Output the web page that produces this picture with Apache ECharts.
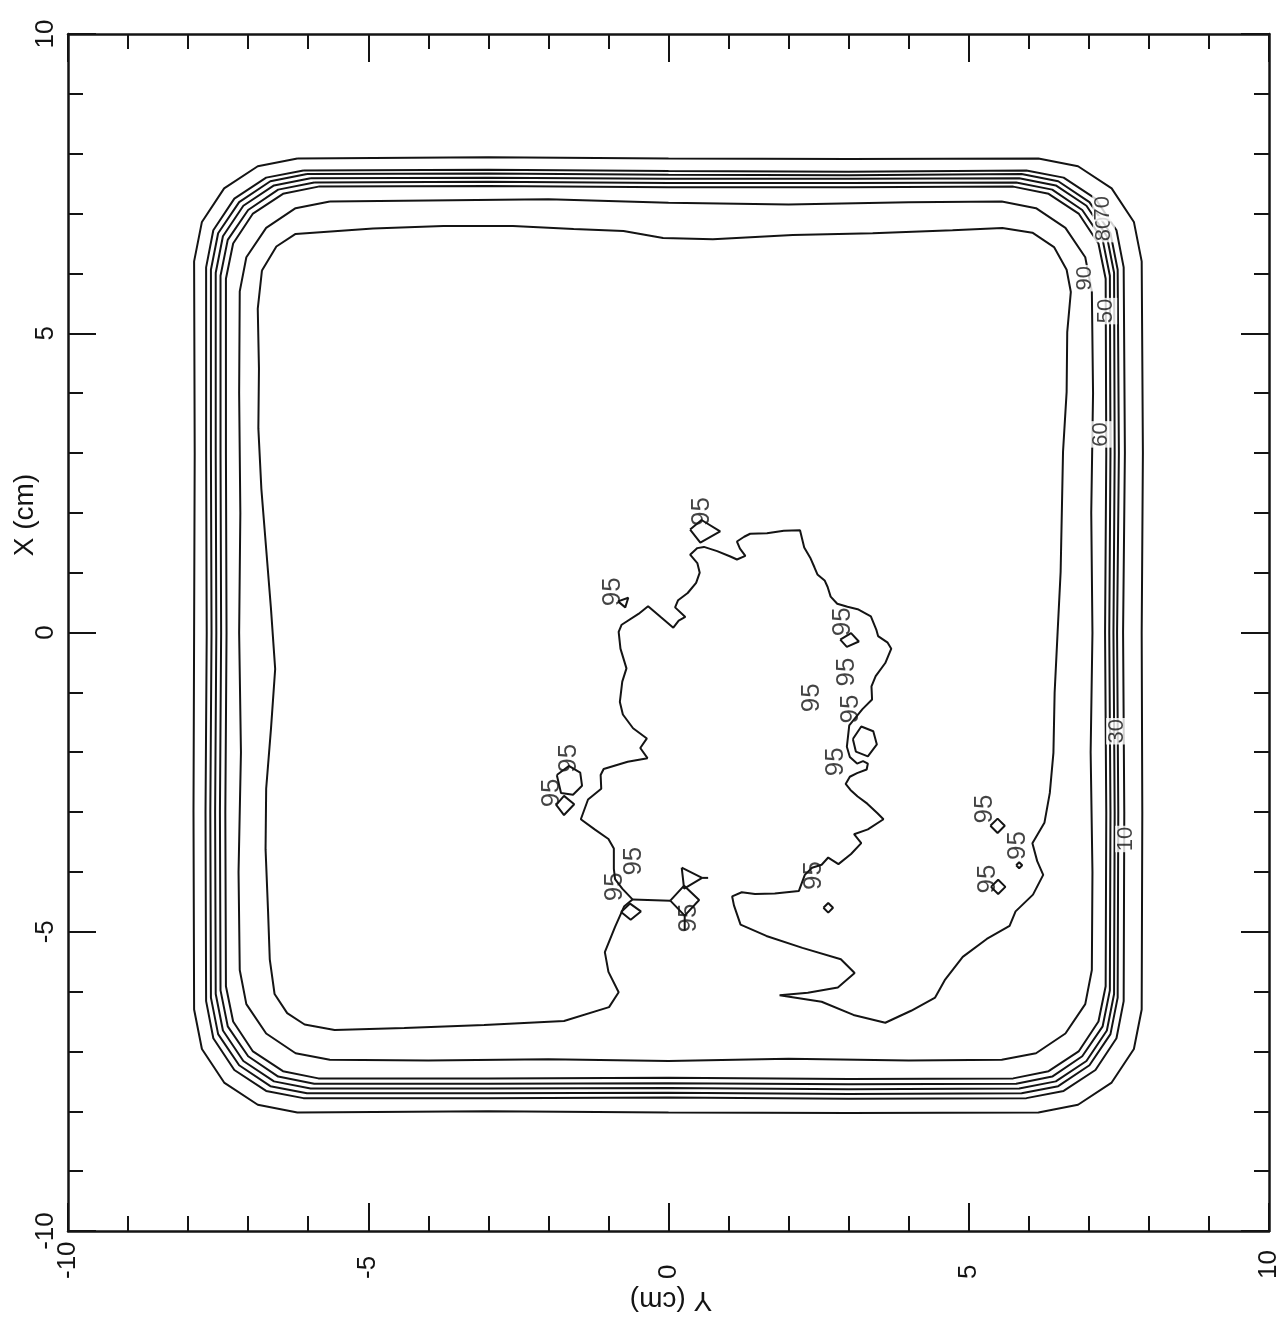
<!DOCTYPE html>
<html><head><meta charset="utf-8">
<script src="https://cdn.jsdelivr.net/npm/echarts@6/dist/echarts.min.js"></script>
<style>html,body{margin:0;padding:0;background:#fff}#c{width:1286px;height:1322px}</style>
</head><body><div id="c"></div>
<script>
// Contour lines (Y cm, X cm)
const contour10 = [[-6.18,7.92],[-3.0,7.94],[0,7.92],[3.0,7.91],[6.16,7.92],[6.82,7.79],[7.38,7.42],[7.75,6.86],[7.88,6.20],[7.90,3.0],[7.88,0],[7.89,-3.0],[7.88,-6.30],[7.75,-6.96],[7.38,-7.52],[6.82,-7.89],[6.16,-8.02],[3.0,-8.03],[0,-8.02],[-3.0,-8.00],[-6.18,-8.02],[-6.84,-7.89],[-7.40,-7.52],[-7.77,-6.96],[-7.90,-6.30],[-7.91,-3.0],[-7.90,0],[-7.89,3.0],[-7.90,6.20],[-7.77,6.86],[-7.40,7.42],[-6.84,7.79],[-6.18,7.92]];
const contour30 = [[-6.08,7.72],[-3,7.73],[0,7.71],[3,7.70],[5.96,7.72],[6.58,7.60],[7.11,7.25],[7.46,6.72],[7.58,6.10],[7.60,3],[7.57,0],[7.59,-3],[7.58,-6.16],[7.46,-6.78],[7.11,-7.31],[6.58,-7.66],[5.96,-7.78],[3,-7.79],[0,-7.77],[-3,-7.78],[-6.08,-7.78],[-6.70,-7.66],[-7.23,-7.31],[-7.58,-6.78],[-7.70,-6.16],[-7.71,-3],[-7.69,0],[-7.70,3],[-7.70,6.10],[-7.58,6.72],[-7.23,7.25],[-6.70,7.60],[-6.08,7.72]];
const contour50 = [[-6.02,7.66],[-3,7.67],[0,7.65],[3,7.64],[5.88,7.66],[6.49,7.54],[7.01,7.19],[7.36,6.67],[7.48,6.06],[7.50,3],[7.47,0],[7.49,-3],[7.48,-6.10],[7.36,-6.71],[7.01,-7.23],[6.49,-7.58],[5.88,-7.70],[3,-7.71],[0,-7.69],[-3,-7.70],[-6.02,-7.70],[-6.63,-7.58],[-7.15,-7.23],[-7.50,-6.71],[-7.62,-6.10],[-7.63,-3],[-7.61,0],[-7.62,3],[-7.62,6.06],[-7.50,6.67],[-7.15,7.19],[-6.63,7.54],[-6.02,7.66]];
const contour60 = [[-5.96,7.59],[-3,7.60],[0,7.58],[3,7.58],[5.84,7.59],[6.45,7.47],[6.96,7.13],[7.30,6.62],[7.42,6.01],[7.43,3],[7.41,0],[7.43,-3],[7.42,-6.04],[7.30,-6.65],[6.96,-7.16],[6.45,-7.50],[5.84,-7.62],[3,-7.63],[0,-7.61],[-3,-7.62],[-5.96,-7.62],[-6.57,-7.50],[-7.08,-7.16],[-7.42,-6.65],[-7.54,-6.04],[-7.55,-3],[-7.53,0],[-7.54,3],[-7.54,6.01],[-7.42,6.62],[-7.08,7.13],[-6.57,7.47],[-5.96,7.59]];
const contour70 = [[-5.90,7.52],[-3,7.53],[0,7.51],[3,7.51],[5.79,7.52],[6.39,7.40],[6.89,7.06],[7.23,6.56],[7.35,5.96],[7.36,3],[7.34,0],[7.36,-3],[7.35,-5.98],[7.23,-6.58],[6.89,-7.08],[6.39,-7.42],[5.79,-7.54],[3,-7.55],[0,-7.53],[-3,-7.54],[-5.90,-7.54],[-6.50,-7.42],[-7.00,-7.08],[-7.34,-6.58],[-7.46,-5.98],[-7.47,-3],[-7.45,0],[-7.46,3],[-7.46,5.96],[-7.34,6.56],[-7.00,7.06],[-6.50,7.40],[-5.90,7.52]];
const contour80 = [[-5.83,7.45],[-3,7.46],[0,7.44],[3,7.44],[5.74,7.45],[6.33,7.33],[6.83,7.00],[7.16,6.50],[7.28,5.91],[7.29,3],[7.27,0],[7.29,-3],[7.28,-5.91],[7.16,-6.50],[6.83,-7.00],[6.33,-7.33],[5.74,-7.45],[3,-7.46],[0,-7.44],[-3,-7.45],[-5.83,-7.45],[-6.42,-7.33],[-6.92,-7.00],[-7.25,-6.50],[-7.37,-5.91],[-7.38,-3],[-7.36,0],[-7.37,3],[-7.37,5.91],[-7.25,6.50],[-6.92,7.00],[-6.42,7.33],[-5.83,7.45]];
const contour90 = [[-5.64,7.20],[-4,7.22],[-2,7.24],[0,7.18],[2,7.15],[4,7.19],[5.55,7.20],[6.12,7.09],[6.61,6.76],[6.94,6.27],[7.05,5.70],[7.07,4],[7.04,2],[7.06,0],[7.03,-2],[7.06,-4],[7.05,-5.64],[6.94,-6.21],[6.61,-6.70],[6.12,-7.03],[5.55,-7.14],[4,-7.15],[2,-7.12],[0,-7.16],[-2,-7.13],[-4,-7.15],[-5.64,-7.14],[-6.21,-7.03],[-6.70,-6.70],[-7.03,-6.21],[-7.14,-5.64],[-7.16,-4],[-7.12,-2],[-7.15,0],[-7.13,2],[-7.15,4],[-7.14,5.70],[-7.03,6.27],[-6.70,6.76],[-6.21,7.09],[-5.64,7.20]];
const contour95 = [[-6.77,6.05],[-6.53,6.45],[-6.21,6.66],[-4.92,6.75],[-3.75,6.79],[-2.59,6.79],[-1.58,6.74],[-0.75,6.71],[-0.09,6.59],[0.74,6.57],[2.07,6.64],[3.40,6.67],[4.73,6.72],[5.56,6.76],[6.06,6.68],[6.42,6.44],[6.63,6.06],[6.70,5.69],[6.64,5.02],[6.63,4.02],[6.57,3.02],[6.55,2.01],[6.53,1.01],[6.48,0.01],[6.43,-1.01],[6.41,-2.01],[6.35,-2.68],[6.26,-3.18],[6.06,-3.52],[6.14,-3.82],[6.24,-4.05],[6.07,-4.38],[5.78,-4.66],[5.68,-4.90],[5.30,-5.12],[4.90,-5.42],[4.60,-5.81],[4.44,-6.10],[4.04,-6.32],[3.61,-6.52],[3.08,-6.39],[2.55,-6.17],[1.85,-6.06],[2.32,-6.02],[2.82,-5.93],[3.10,-5.69],[2.87,-5.46],[2.23,-5.27],[1.63,-5.07],[1.20,-4.88],[1.09,-4.56],
[1.06,-4.41],[1.22,-4.34],[1.44,-4.37],[1.77,-4.36],[2.17,-4.32],[2.27,-4.05],[2.39,-3.93],[2.55,-3.88],[2.66,-3.76],[2.83,-3.87],[3.04,-3.70],[3.21,-3.52],[3.09,-3.37],[3.32,-3.29],[3.58,-3.12],[3.48,-3.02],[3.31,-2.86],[3.15,-2.74],[3.03,-2.63],[2.95,-2.53],[3.02,-2.41],[3.14,-2.35],[3.30,-2.29],[3.32,-2.19],[3.24,-2.15],[3.14,-2.19],[3.02,-2.08],[2.97,-1.91],[3.01,-1.55],[3.23,-1.28],[3.39,-1.12],[3.38,-0.90],[3.45,-0.73],[3.61,-0.51],[3.71,-0.27],[3.65,-0.17],[3.49,-0.06],[3.46,0.05],[3.37,0.27],[3.15,0.39],[2.98,0.43],[2.81,0.48],[2.70,0.60],[2.65,0.76],[2.60,0.87],[2.48,0.97],[2.43,1.09],[2.36,1.25],[2.26,1.42],[2.19,1.71],[1.92,1.70],[1.64,1.66],[1.36,1.65],[1.26,1.60],[1.14,1.52],[1.19,1.40],[1.28,1.28],[1.14,1.22],[1.03,1.27],[0.81,1.36],[0.59,1.43],[0.48,1.41],[0.36,1.30],[0.48,1.16],[0.52,1.00],[0.46,0.83],[0.32,0.66],[0.16,0.54],[0.11,0.42],[0.28,0.26],[0.17,0.20],[0.08,0.08],[-0.12,0.25],[-0.34,0.44],[-0.50,0.31],[-0.78,0.13],[-0.83,0.01],[-0.80,-0.27],[-0.70,-0.60],[-0.77,-0.82],[-0.81,-1.16],[-0.76,-1.37],[-0.59,-1.60],[-0.36,-1.77],[-0.47,-1.93],[-0.35,-2.10],[-0.68,-2.16],[-1.08,-2.28],[-1.13,-2.38],[-1.12,-2.61],[-1.34,-2.79],[-1.46,-3.12],[-1.23,-3.29],[-1.00,-3.45],[-0.91,-3.61],[-0.91,-3.95],[-0.89,-4.12],[-0.77,-4.28],[-0.60,-4.46],
[-0.74,-4.58],[-0.89,-4.92],[-1.06,-5.34],[-1.00,-5.67],[-0.83,-6.01],[-0.99,-6.26],[-1.74,-6.49],[-3.07,-6.56],[-4.40,-6.61],[-5.56,-6.64],[-6.06,-6.55],[-6.35,-6.36],[-6.56,-6.04],[-6.64,-5.46],[-6.67,-4.62],[-6.71,-3.62],[-6.70,-2.61],[-6.62,-1.61],[-6.55,-0.61],[-6.62,0.40],[-6.70,1.40],[-6.78,2.40],[-6.83,3.41],[-6.82,4.41],[-6.84,5.41],[-6.77,6.05]];

// Small isolated 95 % pieces
const smallPieces = [
  [[0.36,1.72],[0.55,1.88],[0.86,1.69],[0.53,1.50],[0.36,1.72]],
  [[-0.84,0.52],[-0.67,0.58],[-0.72,0.42],[-0.84,0.52]],
  [[2.86,-0.12],[3.04,-0.01],[3.17,-0.15],[2.97,-0.24],[2.86,-0.12]],
  [[3.07,-1.78],[3.21,-1.57],[3.41,-1.65],[3.47,-1.87],[3.32,-2.07],[3.12,-1.99],[3.07,-1.78]],
  [[-1.87,-2.88],[-1.74,-2.73],[-1.57,-2.87],[-1.74,-3.05],[-1.87,-2.88]],
  [[-1.86,-2.38],[-1.66,-2.23],[-1.47,-2.34],[-1.44,-2.56],[-1.59,-2.71],[-1.79,-2.68],[-1.86,-2.38]],
  [[-0.79,-4.67],[-0.64,-4.53],[-0.46,-4.66],[-0.63,-4.80],[-0.79,-4.67]],
  [[0.03,-4.48],[0.26,-4.23],[0.51,-4.47],[0.27,-4.73],[0.03,-4.48]],
  [[0.22,-3.93],[0.26,-4.28],[0.56,-4.10],[0.22,-3.93]],
  [[0.56,-4.10],[0.66,-4.10]],
  [[-0.60,-4.46],[0.03,-4.48]],
  [[0.27,-4.73],[0.27,-4.98]],
  [[2.58,-4.60],[2.66,-4.52],[2.74,-4.60],[2.66,-4.68],[2.58,-4.60]],
  [[5.36,-3.23],[5.48,-3.11],[5.60,-3.23],[5.48,-3.35],[5.36,-3.23]],
  [[5.37,-4.25],[5.49,-4.13],[5.61,-4.25],[5.49,-4.37],[5.37,-4.25]],
  [[5.79,-3.89],[5.84,-3.84],[5.89,-3.89],[5.84,-3.94],[5.79,-3.89]]
];

// Contour value labels
const labels95 = [[0.55,2.02],[-0.92,0.68],[2.91,0.18],[2.97,-0.66],[2.38,-1.09],[3.04,-1.28],[2.79,-2.16],[-1.66,-2.10],[-1.95,-2.68],[-0.58,-3.82],[-0.90,-4.25],[0.34,-4.77],[2.42,-4.06],[5.27,-2.95],[5.81,-3.56],[5.31,-4.12]];
const levelLabelPos = [[6.93,5.92],[7.25,6.74],[7.24,7.09],[7.29,5.37],[7.20,3.31],[7.47,-1.65],[7.62,-3.45]];
const levelLabelText = ['90','80','70','50','60','30','10'];

const ink = '#141414';
const FONT = 'Liberation Sans';

const series = [];
[contour10, contour30, contour50, contour60, contour70, contour80, contour90, contour95].concat(smallPieces).forEach(function (d) {
  series.push({type:'line', data:d, symbol:'none', showSymbol:false, silent:true, animation:false,
    lineStyle:{color:ink, width:2}, z:2});
});
series.push({type:'scatter', symbol:'circle', symbolSize:1, itemStyle:{color:'rgba(0,0,0,0)'}, silent:true, z:5,
  data: labels95.map(function (p) { return {value:p, name:'95'}; }),
  label:{show:true, position:'inside', formatter:'{b}', rotate:90, fontSize:26, fontFamily:FONT, color:ink}});
series.push({type:'scatter', symbol:'circle', symbolSize:1, itemStyle:{color:'rgba(0,0,0,0)'}, silent:true, z:6,
  data: levelLabelPos.map(function (p, i) { return {value:p, name:levelLabelText[i]}; }),
  label:{show:true, position:'inside', formatter:'{b}', rotate:90, fontSize:22, fontFamily:FONT, color:ink,
    backgroundColor:'#fff', padding:[0,1]}});

function axisBase(pos, showLabel, labelOpt) {
  return {
    type:'value', min:-10, max:10, interval:5, position:pos,
    axisLine:{show:true, onZero:false, lineStyle:{color:ink, width:2.5}},
    axisTick:{show:true, inside:true, length:28, lineStyle:{color:ink, width:2}},
    minorTick:{show:true, splitNumber:5, length:15, lineStyle:{color:ink, width:2}},
    splitLine:{show:false}, minorSplitLine:{show:false},
    axisLabel: showLabel ? labelOpt : {show:false}
  };
}

const chart = echarts.init(document.getElementById('c'), null, {renderer:'canvas'});
chart.setOption({
  animation:false,
  backgroundColor:'#fff',
  grid:{left:68, right:17, top:34, bottom:91, containLabel:false},
  xAxis:[
    axisBase('bottom', true, {show:true, rotate:90, align:'left', verticalAlign:'middle', margin:48, fontSize:26, fontFamily:FONT, color:ink}),
    axisBase('top', false)
  ],
  yAxis:[
    axisBase('left', true, {show:true, rotate:90, margin:9, fontSize:26, fontFamily:FONT, color:ink}),
    axisBase('right', false)
  ],
  graphic:[
    {type:'text', x:25, y:515, rotation:Math.PI/2, silent:true,
      style:{text:'X (cm)', fontSize:28, fontFamily:FONT, fill:ink, align:'center', verticalAlign:'middle'}},
    {type:'text', x:671, y:1300, rotation:Math.PI, silent:true,
      style:{text:'Y (cm)', fontSize:28, fontFamily:FONT, fill:ink, align:'center', verticalAlign:'middle'}}
  ],
  series: series
});
</script></body></html>
